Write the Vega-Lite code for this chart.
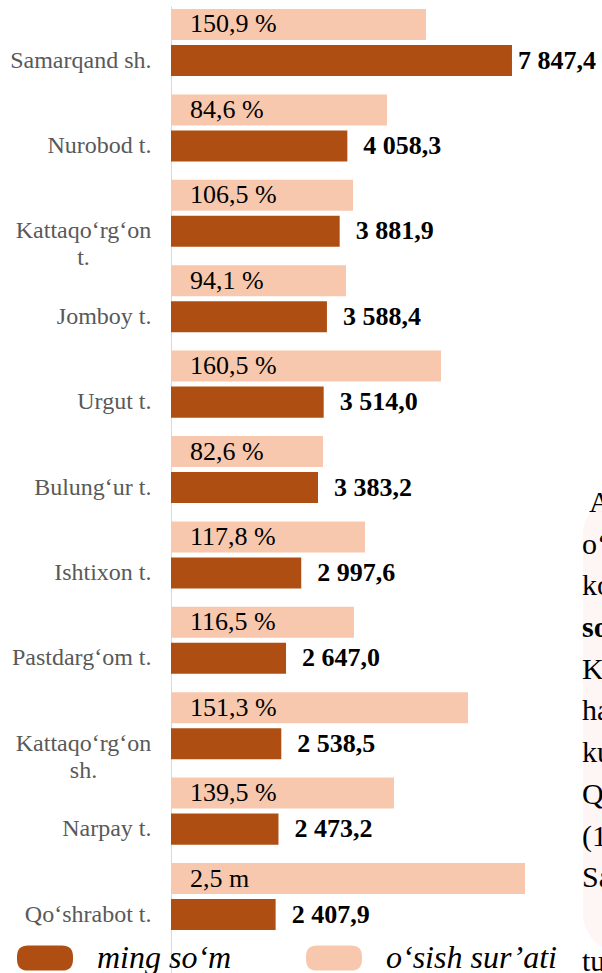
{
  "$schema": "https://vega.github.io/schema/vega-lite/v6.json",
  "width": 431,
  "height": 967,
  "autosize": "none",
  "padding": {"left": 171, "top": 6, "right": 0, "bottom": 0},
  "background": "white",
  "config": {"view": {"stroke": null}, "font": "Liberation Serif"},
  "datasets": {
    "bars": [
      {"region": "Samarqand sh.", "series": "o‘sish sur’ati", "value": 5868, "label": "150,9 %"},
      {"region": "Samarqand sh.", "series": "ming so‘m", "value": 7847.4, "label": "7 847,4"},
      {"region": "Nurobod t.", "series": "o‘sish sur’ati", "value": 4971, "label": "84,6 %"},
      {"region": "Nurobod t.", "series": "ming so‘m", "value": 4058.3, "label": "4 058,3"},
      {"region": "Kattaqo‘rg‘on t.", "series": "o‘sish sur’ati", "value": 4189, "label": "106,5 %"},
      {"region": "Kattaqo‘rg‘on t.", "series": "ming so‘m", "value": 3881.9, "label": "3 881,9"},
      {"region": "Jomboy t.", "series": "o‘sish sur’ati", "value": 4027, "label": "94,1 %"},
      {"region": "Jomboy t.", "series": "ming so‘m", "value": 3588.4, "label": "3 588,4"},
      {"region": "Urgut t.", "series": "o‘sish sur’ati", "value": 6214, "label": "160,5 %"},
      {"region": "Urgut t.", "series": "ming so‘m", "value": 3514.0, "label": "3 514,0"},
      {"region": "Bulung‘ur t.", "series": "o‘sish sur’ati", "value": 3498, "label": "82,6 %"},
      {"region": "Bulung‘ur t.", "series": "ming so‘m", "value": 3383.2, "label": "3 383,2"},
      {"region": "Ishtixon t.", "series": "o‘sish sur’ati", "value": 4465, "label": "117,8 %"},
      {"region": "Ishtixon t.", "series": "ming so‘m", "value": 2997.6, "label": "2 997,6"},
      {"region": "Pastdarg‘om t.", "series": "o‘sish sur’ati", "value": 4212, "label": "116,5 %"},
      {"region": "Pastdarg‘om t.", "series": "ming so‘m", "value": 2647.0, "label": "2 647,0"},
      {"region": "Kattaqo‘rg‘on sh.", "series": "o‘sish sur’ati", "value": 6835, "label": "151,3 %"},
      {"region": "Kattaqo‘rg‘on sh.", "series": "ming so‘m", "value": 2538.5, "label": "2 538,5"},
      {"region": "Narpay t.", "series": "o‘sish sur’ati", "value": 5132, "label": "139,5 %"},
      {"region": "Narpay t.", "series": "ming so‘m", "value": 2473.2, "label": "2 473,2"},
      {"region": "Qo‘shrabot t.", "series": "o‘sish sur’ati", "value": 8147, "label": "2,5 m"},
      {"region": "Qo‘shrabot t.", "series": "ming so‘m", "value": 2407.9, "label": "2 407,9"}
    ],
    "para": [
      {"line": 1, "t": "A"},
      {"line": 2, "t": "o‘z"},
      {"line": 3, "t": "ko"},
      {"line": 4, "t": "so"},
      {"line": 5, "t": "Ka"},
      {"line": 6, "t": "ha"},
      {"line": 7, "t": "ku"},
      {"line": 8, "t": "Qo"},
      {"line": 9, "t": "(1"},
      {"line": 10, "t": "Sa"},
      {"line": 12, "t": "tu"}
    ],
    "panel": [
      {"x0": 9480, "x1": 12000, "l0": 0.81, "l1": 11.79}
    ]
  },
  "layer": [
    {
      "data": {"name": "panel"},
      "mark": {"type": "rect", "color": "#FDF6F4", "cornerRadius": 40},
      "encoding": {
        "x": {"field": "x0", "type": "quantitative"},
        "x2": {"field": "x1"},
        "y": {"field": "l0", "type": "quantitative", "scale": {"domain": [-10.918, 12.271], "reverse": true, "nice": false, "zero": false}, "axis": null},
        "y2": {"field": "l1"}
      }
    },
    {
      "data": {"name": "bars"},
      "encoding": {
        "y": {
          "field": "region",
          "type": "nominal",
          "sort": null,
          "scale": {"paddingInner": 0.215, "paddingOuter": 0.269, "align": 0.065},
          "axis": {
            "title": null,
            "ticks": false,
            "domainColor": "#D9D9D9",
            "domainWidth": 1,
            "labelFont": "Liberation Serif",
            "labelFontSize": 24,
            "labelColor": "#595959",
            "labelAlign": {"condition": {"test": "indexof(datum.value, 'Kattaqo‘rg‘on') == 0", "value": "center"}, "value": "right"},
            "labelPadding": {"condition": {"test": "indexof(datum.value, 'Kattaqo‘rg‘on') == 0", "value": 88}, "value": 20},
            "labelOffset": 18,
            "labelLineHeight": 27,
            "labelLimit": 0,
            "labelExpr": "datum.value == 'Kattaqo‘rg‘on t.' ? ['Kattaqo‘rg‘on', 't.'] : datum.value == 'Kattaqo‘rg‘on sh.' ? ['Kattaqo‘rg‘on', 'sh.'] : datum.value"
          }
        },
        "yOffset": {
          "field": "series",
          "type": "nominal",
          "scale": {"domain": ["o‘sish sur’ati", "ming so‘m"], "paddingInner": 0.139, "paddingOuter": 0}
        }
      },
      "layer": [
        {
          "mark": {"type": "bar"},
          "encoding": {
            "x": {"field": "value", "type": "quantitative", "scale": {"domain": [0, 9919], "nice": false, "zero": true}, "axis": null},
            "color": {
              "field": "series",
              "type": "nominal",
              "scale": {"domain": ["ming so‘m", "o‘sish sur’ati"], "range": ["#AE4E13", "#F7C8AD"]},
              "legend": {
                "orient": "none",
                "legendX": -154,
                "legendY": 924,
                "direction": "horizontal",
                "columns": 2,
                "title": null,
                "padding": 0,
                "symbolType": "M-0.6,-0.45 L0.6,-0.45 Q1,-0.45 1,-0.05 L1,0.05 Q1,0.45 0.6,0.45 L-0.6,0.45 Q-1,0.45 -1,0.05 L-1,-0.05 Q-1,-0.45 -0.6,-0.45 Z",
                "symbolSize": 3136,
                "symbolStrokeWidth": 0,
                "symbolOpacity": 1,
                "labelFont": "Liberation Serif",
                "labelFontStyle": "italic",
                "labelFontSize": 32,
                "labelColor": "black",
                "labelOffset": 24,
                "labelLimit": 0,
                "columnPadding": 74
              }
            }
          }
        },
        {
          "transform": [{"filter": "datum.series == 'o‘sish sur’ati'"}],
          "mark": {"type": "text", "align": "left", "baseline": "middle", "dx": 19, "fontSize": 26, "font": "Liberation Serif", "color": "black"},
          "encoding": {
            "x": {"datum": 0, "type": "quantitative"},
            "text": {"field": "label"}
          }
        },
        {
          "transform": [{"filter": "datum.series == 'ming so‘m' && datum.value < 7000"}],
          "mark": {"type": "text", "align": "left", "baseline": "middle", "dx": 16, "fontSize": 26, "fontWeight": "bold", "font": "Liberation Serif", "color": "black"},
          "encoding": {
            "x": {"field": "value", "type": "quantitative"},
            "text": {"field": "label"}
          }
        },
        {
          "transform": [{"filter": "datum.series == 'ming so‘m' && datum.value >= 7000"}],
          "mark": {"type": "text", "align": "left", "baseline": "middle", "dx": 6, "fontSize": 26, "fontWeight": "bold", "font": "Liberation Serif", "color": "black"},
          "encoding": {
            "x": {"field": "value", "type": "quantitative"},
            "text": {"field": "label"}
          }
        }
      ]
    },
    {
      "data": {"name": "para"},
      "encoding": {
        "x": {"datum": 9459, "type": "quantitative"},
        "y": {"field": "line", "type": "quantitative", "scale": {"domain": [-10.918, 12.271], "reverse": true, "nice": false, "zero": false}, "axis": null},
        "text": {"field": "t"}
      },
      "layer": [
        {
          "transform": [{"filter": "datum.line != 4 && datum.line != 1"}],
          "mark": {"type": "text", "align": "left", "baseline": "middle", "fontSize": 30, "font": "Liberation Serif", "color": "black"}
        },
        {
          "transform": [{"filter": "datum.line == 1"}],
          "mark": {"type": "text", "align": "left", "baseline": "middle", "dx": 7, "fontSize": 30, "font": "Liberation Serif", "color": "black"}
        },
        {
          "transform": [{"filter": "datum.line == 4"}],
          "mark": {"type": "text", "align": "left", "baseline": "middle", "fontSize": 30, "fontWeight": "bold", "font": "Liberation Serif", "color": "black"}
        }
      ]
    }
  ],
  "resolve": {"scale": {"y": "independent"}}
}
